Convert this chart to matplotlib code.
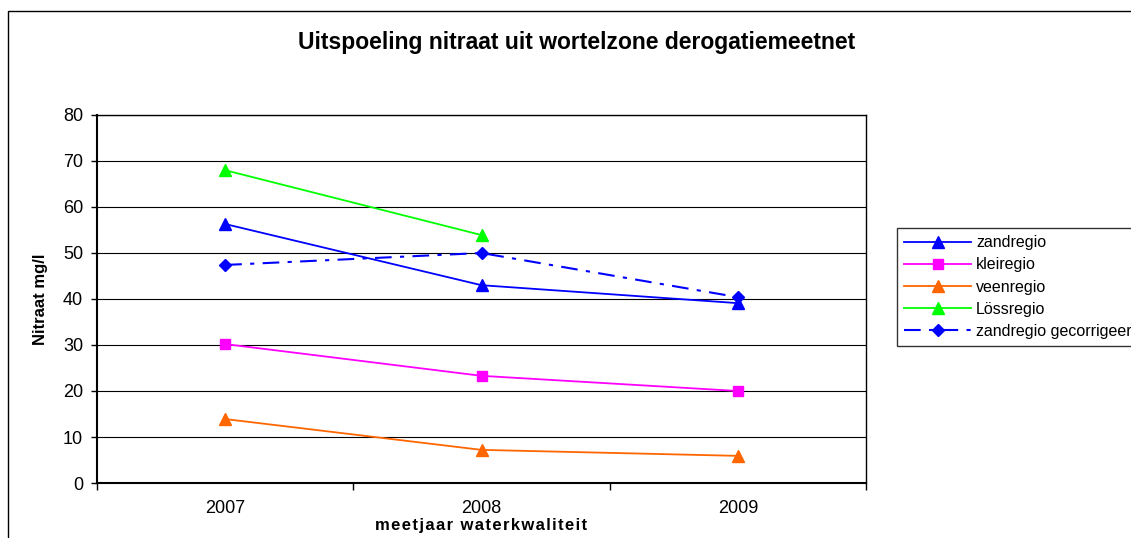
import matplotlib.pyplot as plt
from matplotlib.patches import Rectangle

plt.rcParams['font.family'] = ['Liberation Sans', 'DejaVu Sans']

# Data
years = ['2007', '2008', '2009']
zandregio = [56.3, 43.0, 39.1]
kleiregio = [30.2, 23.3, 20.0]
veenregio = [13.9, 7.2, 5.9]
lossregio = [68.0, 53.9]
zand_gecorr = [47.4, 50.0, 40.4]

W, H = 1131, 538
fig = plt.figure(figsize=(W / 100, H / 100), dpi=100)

# outer chart border (clipped on right/bottom like the source)
fig.patches.append(Rectangle((8 / W, -0.1), 1.2, 1 - 11 / H + 0.1,
                             transform=fig.transFigure, fill=False,
                             edgecolor='black', linewidth=1))

# plot area in pixel coordinates
left, right, top, bottom = 97, 866, 115, 483
ax = fig.add_axes([left / W, 1 - bottom / H, (right - left) / W, (bottom - top) / H])

x = list(range(len(years)))
ax.plot(x, zandregio, color='#0000FF', marker='^', markersize=8, linewidth=1.3, label='zandregio')
ax.plot(x, kleiregio, color='#FF00FF', marker='s', markersize=7, linewidth=1.3, label='kleiregio')
ax.plot(x, veenregio, color='#FF6600', marker='^', markersize=8, linewidth=1.3, label='veenregio')
ax.plot(x[:len(lossregio)], lossregio, color='#00FF00', marker='^', markersize=8, linewidth=1.3, label='Lössregio')
ax.plot(x, zand_gecorr, color='#0000FF', marker='D', markersize=6, linewidth=1.5,
        linestyle=(0, (8, 4, 2, 4)), label='zandregio gecorrigeerd')

ax.set_xlim(-0.5, 2.5)
ax.set_ylim(0, 80)
ax.set_yticks(range(0, 81, 10))
ax.set_xticks(x)
ax.set_xticklabels(years)
ax.set_xticks([-0.5, 0.5, 1.5, 2.5], minor=True)
ax.tick_params(axis='x', which='major', length=0, labelsize=13, pad=12)
ax.tick_params(axis='x', which='minor', length=5, width=1)
ax.tick_params(axis='y', length=4, width=1, labelsize=13, pad=6)
ax.grid(axis='y', color='black', linewidth=0.8)
ax.set_axisbelow(True)
for s in ax.spines.values():
    s.set_linewidth(1)
    s.set_color('black')
ax.spines['left'].set_linewidth(1.5)
ax.spines['bottom'].set_linewidth(1.5)

ax.set_ylabel('Nitraat mg/l', fontsize=12, fontweight='bold', labelpad=11)
ax.set_xlabel('\u200a'.join('meetjaar waterkwaliteit'),
              fontsize=12, fontweight='bold', labelpad=1)

fig.text(577 / W, 1 - 42 / H, 'Uitspoeling nitraat uit wortelzone derogatiemeetnet',
         ha='center', va='center', fontsize=16.5, fontweight='bold')

leg = ax.legend(loc='upper left', bbox_to_anchor=(897 / W, 1 - 228 / H),
                bbox_transform=fig.transFigure, fontsize=11.5, frameon=True,
                fancybox=False, edgecolor='black', handlelength=4.2,
                borderpad=0.45, labelspacing=0.45, handletextpad=0.3,
                borderaxespad=0)
leg.get_frame().set_linewidth(1)

fig.savefig('out.png', dpi=100)
